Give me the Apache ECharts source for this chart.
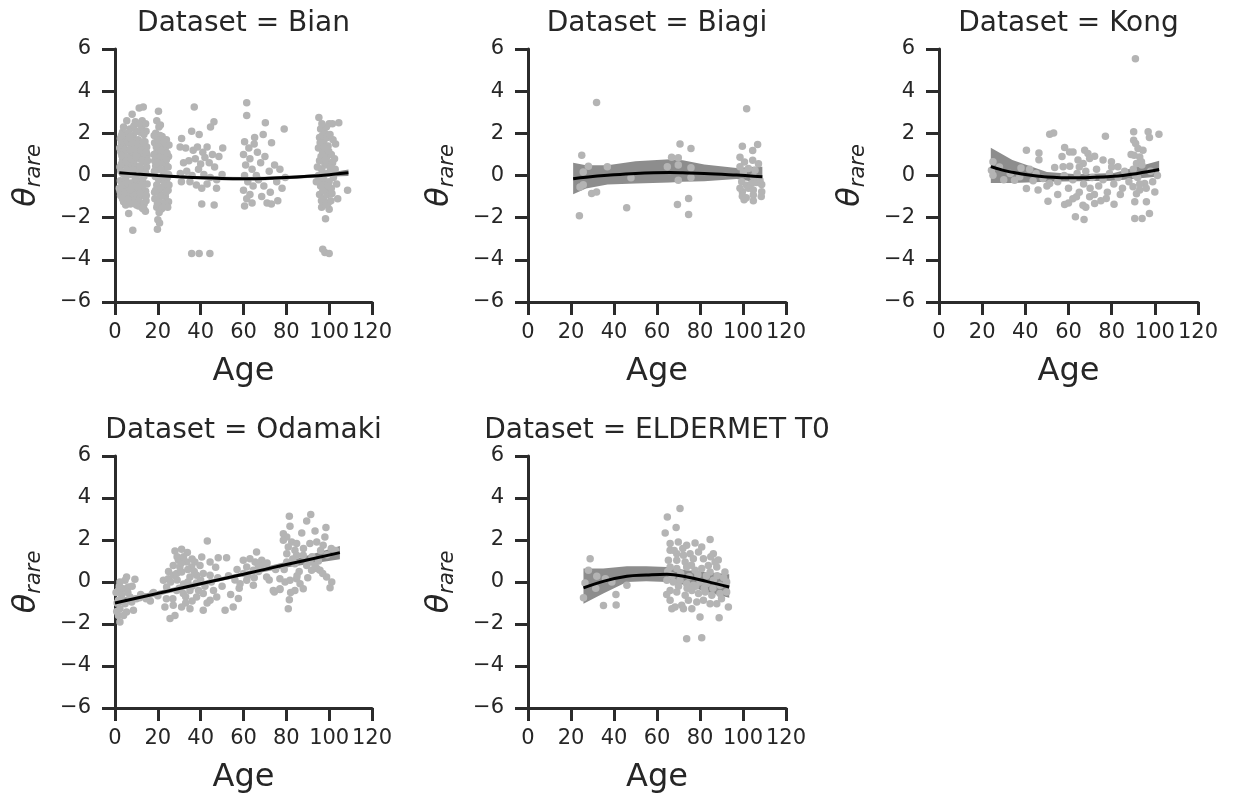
<!DOCTYPE html>
<html>
<head>
<meta charset="utf-8">
<script src="https://cdn.jsdelivr.net/npm/echarts@6/dist/echarts.min.js"></script>
<style>
html,body{margin:0;padding:0;background:#fff;}
#chart{width:1234px;height:795px;}
</style>
</head>
<body>
<div id="chart"></div>
<script>
// ---------------- DATA ----------------
const datasetNames = ['Bian', 'Biagi', 'Kong', 'Odamaki', 'ELDERMET T0'];
const ageTicks = [0, 20, 40, 60, 80, 100, 120];
const thetaTicks = [-6, -4, -2, 0, 2, 4, 6];

// Bian
const bianPoints = [
[13.2,3.25],[11.3,3.2],[8.0,2.9],[5.5,2.6],[9.5,2.55],[12.5,2.3],[3.5,2.05],[7.0,2.2],[14.5,2.1],
[2.5,1.75],[5.0,1.85],[8.5,1.9],[10.8,1.7],[13.5,1.95],[4.0,1.45],[6.5,1.55],[9.2,1.4],[12.0,1.5],[14.8,1.35],
[2.8,1.1],[5.5,1.2],[7.8,1.05],[10.5,1.15],[13.0,1.0],[15.0,0.95],[3.5,0.75],[6.0,0.85],[8.8,0.7],[11.5,0.8],[14.0,0.65],
[2.3,0.4],[4.8,0.5],[7.2,0.35],[9.8,0.45],[12.3,0.3],[14.8,0.4],[3.6,0.1],[6.2,0.15],[8.5,0.05],[11.0,0.12],[13.5,-0.05],
[2.5,-0.25],[5.0,-0.2],[7.5,-0.35],[10.2,-0.3],[12.8,-0.2],[15.0,-0.4],[3.8,-0.6],[6.3,-0.55],[9.0,-0.7],[11.8,-0.6],[14.3,-0.75],
[2.6,-0.95],[5.2,-1.0],[7.7,-0.9],[10.4,-1.05],[13.0,-0.95],[4.0,-1.25],[8.0,-1.2],[12.0,-1.3],[14.5,-1.2],
[6.4,-1.8],[8.3,-2.6],[13.5,-1.6],[14.2,-1.7],[11.0,-1.45],
[4.2,1.0],[9.0,1.65],[11.8,2.05],[6.8,0.6],[10.0,0.0],[13.8,0.95],[5.8,-0.8],[3.0,0.55],[12.5,-0.65],[7.5,1.4],[14.0,1.6],[9.5,-0.15],[2.0,-0.6],[5.5,0.25],[11.5,-0.9],
[3.0,1.55],[5.8,1.6],[8.2,1.55],[10.5,1.45],[13.2,1.6],[2.2,1.3],[4.5,1.25],[7.0,1.2],[9.6,1.25],[12.2,1.2],[14.6,1.1],
[3.2,0.95],[5.3,0.65],[7.6,0.8],[10.0,0.9],[12.6,0.75],[15.2,0.7],[2.7,0.2],[4.9,0.0],[7.0,0.05],[9.3,0.25],[11.6,0.45],[14.2,0.15],
[3.3,-0.45],[5.6,-0.35],[8.0,-0.55],[10.7,-0.55],[13.2,-0.45],[2.4,-0.75],[4.6,-0.8],[7.0,-0.7],[9.7,-0.95],[12.0,-0.85],[14.6,-0.95],
[3.5,-1.1],[6.0,-1.15],[9.3,-1.15],[11.0,-1.2],[13.6,-1.35],[5.0,-1.4],[7.2,-1.35],[10.0,-1.4],[12.8,-1.55],
[4.0,2.3],[6.0,2.0],[10.0,2.1],[12.7,2.6],[8.8,2.35],[14.3,2.45],[3.0,1.9],[11.2,2.45],[6.8,1.8],
[20.3,3.05],[19.5,2.6],[20.5,2.3],[19.0,2.0],[22.0,1.85],[24.0,1.7],[18.5,1.55],[21.0,1.45],[23.5,1.3],[19.5,1.1],[22.5,1.0],[25.0,0.9],[18.5,0.7],[21.0,0.6],[23.8,0.5],[20.0,0.3],[22.5,0.2],[25.0,0.05],[18.8,-0.05],[21.5,-0.15],[24.0,-0.3],[19.5,-0.45],[22.0,-0.55],[24.8,-0.7],[18.5,-0.8],[21.0,-0.9],[23.5,-1.0],[20.0,-1.2],[22.5,-1.3],[25.0,-1.25],[19.5,-1.5],[21.5,-1.6],[20.0,-2.1],[20.8,-2.25],[19.8,-2.55],[23.0,0.8],[20.5,1.2],[24.5,-0.1],[22.0,-0.95],[19.0,0.45],[23.0,-0.5],[21.0,1.9],[24.8,0.4],
[18.3,1.9],[20.2,1.7],[23.0,1.6],[25.2,1.45],[19.3,1.35],[21.8,1.2],[24.3,1.05],[18.2,1.0],[20.6,0.85],[22.0,0.6],[24.0,0.75],[19.6,0.65],[21.2,0.3],[23.6,0.1],[18.4,0.2],[20.4,-0.2],[22.8,-0.25],[25.2,-0.45],[19.0,-0.7],[21.6,-0.6],[23.8,-0.8],[18.6,-1.1],[20.8,-1.25],[23.2,-1.35],[24.6,-1.5],[19.8,-1.35],[22.0,-1.55],[20.6,-1.75],[21.2,2.4],[22.5,-0.05],
[37.0,3.25],[31.1,1.75],[35.8,2.1],[39.3,1.95],[44.6,2.3],[46.2,2.55],[30.4,1.35],[33.0,1.3],[36.5,1.2],[38.5,1.35],[41.0,1.1],[43.0,1.35],[45.5,1.0],[48.5,0.9],[32.0,0.6],[34.5,0.7],[37.5,0.8],[40.0,0.55],[42.0,0.85],[44.0,0.6],[46.5,0.4],[30.5,0.1],[33.5,0.2],[36.0,0.0],[39.0,0.3],[41.5,0.05],[44.5,-0.1],[47.5,-0.2],[50.0,0.05],[31.0,-0.3],[35.0,-0.3],[38.0,-0.45],[40.5,-0.6],[43.0,-0.4],[47.4,-0.6],[40.5,-1.35],[46.3,-1.4],[35.8,-3.7],[39.3,-3.7],[44.3,-3.7],[50.3,1.3],
[61.5,3.45],[61.5,2.85],[70.2,2.5],[65.2,1.8],[69.2,1.95],[73.1,1.55],[79.0,2.2],[60.5,1.6],[62.5,1.3],[60.0,1.0],[63.0,0.8],[61.0,0.5],[64.0,0.3],[60.5,0.0],[62.0,-0.3],[64.5,-0.5],[60.0,-0.7],[63.0,-0.9],[61.5,-1.1],[60.5,-1.45],[64.0,-1.3],[66.5,1.1],[68.0,0.6],[70.0,0.9],[72.0,0.2],[74.5,0.5],[67.0,-0.2],[69.5,-0.5],[72.5,-0.8],[75.5,-0.3],[77.0,0.3],[79.5,-0.1],[71.0,-1.3],[73.0,-1.35],[76.0,-1.2],[66.0,0.0],[68.5,-1.0],[78.0,-0.6],[65.0,1.5],
[95.2,2.75],[100.0,2.45],[101.5,2.45],[104.5,2.5],[96.0,2.2],[98.0,2.0],[95.5,1.8],[97.5,1.6],[99.5,1.4],[95.0,1.3],[97.0,1.1],[99.0,0.9],[101.0,1.0],[95.5,0.7],[98.0,0.5],[100.5,0.6],[96.5,0.3],[99.0,0.1],[101.5,0.2],[95.0,0.0],[97.5,-0.2],[100.0,-0.3],[102.0,-0.1],[96.0,-0.5],[98.5,-0.7],[101.0,-0.6],[95.5,-0.9],[97.5,-1.1],[99.5,-1.3],[96.5,-1.5],[100.0,-1.6],[98.3,-2.05],[97.0,-3.5],[98.0,-3.65],[100.0,-3.7],[104.0,-1.1],[108.6,-0.7],[103.0,1.5],[102.5,0.8],[103.5,-0.4],[94.5,0.4],[94.0,-0.3],[96.8,1.9],[99.2,-0.9],[101.8,1.7],[97.0,0.0],
[95.8,1.55],[97.8,1.35],[99.8,1.15],[101.6,0.6],[96.2,0.9],[98.3,0.75],[100.6,0.35],[95.4,-0.2],[97.3,-0.45],[99.6,-0.5],[101.3,-0.85],[96.4,-1.2],[98.6,-1.4],[100.8,-1.2],[97.0,-0.75],[99.2,1.8],[98.7,2.3],[102.8,0.3],[96.6,2.45],[100.4,1.95]
];
const bianFitAge = [2, 10, 20, 30, 40, 50, 60, 70, 80, 90, 100, 109];
const bianFit =    [0.13, 0.07, 0.0, -0.06, -0.11, -0.14, -0.15, -0.14, -0.10, -0.04, 0.04, 0.13];
const bianLo =     [0.01, -0.02, -0.08, -0.13, -0.18, -0.22, -0.23, -0.22, -0.18, -0.12, -0.05, -0.02];
const bianHi =     [0.25, 0.16, 0.08, 0.01, -0.04, -0.06, -0.07, -0.06, -0.02, 0.04, 0.13, 0.28];

// Biagi
const biagiPoints = [
[31.9,3.46],[101.7,3.17],[25.0,0.96],[28.1,0.44],[36.9,0.41],[25.7,0.17],[24.2,-0.54],[25.7,-0.44],[29.6,-0.85],[31.9,-0.78],[23.9,-1.91],[45.9,-1.53],[47.9,-0.11],
[70.7,1.5],[75.8,1.28],[66.8,0.87],[69.9,0.84],[64.8,0.41],[69.9,0.5],[75.8,0.37],[69.9,-0.22],[75.8,-0.1],[69.5,-1.38],[74.7,-1.09],[74.7,-1.85],
[99.7,1.39],[106.8,1.47],[104.5,1.18],[98.6,0.87],[100.7,0.64],[104.5,0.72],[107.2,0.56],[98.6,0.41],[100.2,0.17],[102.5,0.33],[105.6,0.25],[99.4,-0.3],[101.7,-0.46],[104.0,-0.38],[106.4,-0.33],[108.7,-0.43],[107.9,-0.22],[104.8,-0.06],[99.7,-0.77],[102.5,-0.61],[104.8,-0.69],[108.7,-0.77],[99.7,-0.98],[104.8,-0.93],[98.6,-0.61],[100.5,-1.15],[104.8,-1.2],[108.5,-1.0],[101.5,-1.05]
];
const biagiFitAge = [21, 27, 37, 50, 66, 72, 82, 97, 105, 109];
const biagiFit =    [-0.15, -0.08, 0.01, 0.10, 0.14, 0.13, 0.10, 0.02, -0.03, -0.06];
const biagiLo =     [-0.89, -0.62, -0.43, -0.38, -0.33, -0.30, -0.27, -0.17, -0.30, -0.40];
const biagiHi =     [0.61, 0.49, 0.49, 0.68, 0.77, 0.72, 0.52, 0.36, 0.41, 0.41];

// Kong
const kongPoints = [
[91.0,5.54],[51.3,1.96],[53.1,2.02],[77.1,1.86],[90.2,2.07],[96.9,2.07],[101.9,1.96],[97.5,1.8],[40.5,1.2],[46.3,1.07],[46.3,0.75],[58.2,1.33],[60.5,1.12],
[62.1,1.12],[67.5,1.2],[69.0,1.04],[72.1,0.91],[69.8,0.81],[64.4,0.73],[66.8,0.57],[76.0,0.73],[79.9,0.65],[82.9,0.41],[57.5,0.41],[60.6,0.44],[53.6,0.38],
[90.2,1.67],[91.1,1.52],[92.2,1.28],[94.5,1.2],[93.0,0.88],[90.4,0.96],[91.5,0.57],[93.8,0.65],
[40.5,-0.62],[50.5,-1.22],[58.2,-1.38],[63.7,-1.01],[66.7,-1.41],[69.8,-1.01],[72.1,-1.33],[77.5,-1.09],[81.1,-1.36],[63.2,-1.96],[67.2,-2.09],[90.7,-2.04],[94.1,-2.04],[97.5,-1.8],[100.0,-0.78],
[90.7,-1.25],[91.5,-0.86],[89.9,-0.53],[93.0,-0.69],[95.3,-0.38],[96.1,-1.25],
[25.0,0.65],[25.0,0.01],[24.3,0.25],[35.0,-0.22],[37.4,-0.06],[43.6,-0.25],[48.2,-0.14],[45.9,-0.69],[51.3,-0.38],[101.2,0.0],
[45,0.1],[50,-0.5],[55,-0.3],[58,0.0],[60,-0.6],[62,-0.2],[64,0.1],[65,-0.8],[67,-0.4],[68,0.2],[70,-0.6],[71,-0.1],[73,0.3],[74,-0.5],[76,-0.2],[78,-0.8],[79,0.1],[81,-0.4],[83,-0.1],[84,-0.9],[86,0.2],[88,-0.3],[90,0.3],[92,-0.1],[94,0.5],[96,-0.6],[98,0.2],[99,-0.3],[55,-0.9],[62,-1.1],[75,-1.2],[85,-0.6],[42,0.3],[38,0.35],[30,-0.2],[28,0.4],[33,0.1],[57,0.9],[65,0.4],[80,0.4],[72,-0.9],[89,1.0],[91,0.0],[93,-0.4],[68,-1.5],[60,-1.3]
];
const kongFitAge = [24, 34, 50, 64, 81, 92, 102];
const kongFit =    [0.42, 0.15, -0.07, -0.11, -0.04, 0.10, 0.28];
const kongLo =     [-0.35, -0.35, -0.30, -0.27, -0.25, -0.14, -0.05];
const kongHi =     [1.32, 0.73, 0.17, 0.06, 0.12, 0.41, 0.70];

// Odamaki
const odamakiPoints = [
[5.4,0.24],[9.3,0.13],[2.3,0.0],[4.7,0.08],[1.6,-0.40],[3.9,-0.32],[6.2,-0.24],[3.1,-0.63],[7.0,-0.71],[1.6,-0.87],[4.7,-1.03],[7.8,-0.95],[2.3,-1.27],[5.4,-1.43],[8.6,-1.35],[1.6,-1.59],[2.3,-1.90],
[0.5,-0.5],[1.0,-1.0],[0.8,-1.4],[3.0,-0.9],[6.0,-0.5],[8.0,-0.2],[2.0,-0.2],[4.0,-1.6],[10.0,-0.8],[12.0,-0.6],[14.0,-0.7],[16.5,-0.9],[18.0,-0.5],[11.5,-0.75],[14.5,-0.8],[17.5,-0.55],[20.0,-0.65],
[28.0,1.48],[31.1,1.56],[33.8,1.40],[43.1,1.95],[27.2,0.79],[29.6,1.03],[30.3,0.71],[33.5,0.95],[35.8,0.71],[37.3,0.95],[39.7,0.79],[40.5,1.19],[44.4,0.95],[48.2,1.16],[52.1,1.16],
[22.6,0.08],[24.9,0.16],[27.2,0.32],[28.8,0.40],[31.1,0.48],[35.0,0.24],[38.1,0.32],[41.2,0.40],[44.4,0.32],
[24.1,-0.24],[28.8,-0.40],[31.9,-0.55],[35.0,-0.40],[38.1,-0.71],[41.2,-0.55],[44.4,-0.87],[47.5,-0.71],
[23.3,-1.19],[27.2,-1.11],[31.1,-1.19],[35.0,-1.27],[41.2,-1.35],[51.4,-1.35],[25.7,-1.74],[28.0,-1.59],[55.2,-1.19],[57.6,-0.79],
[26,0.0],[29,0.1],[32,-0.1],[34,0.0],[36,-0.2],[38,-0.05],[30,-0.3],[33,-0.7],[36,-0.9],[39,-0.4],[42,-0.2],[45,0.0],[27,-0.8],[31,0.9],[34,0.6],[37,0.5],[29,1.2],[33,-1.0],[40,0.1],[46,-0.4],[48,0.2],[50,-0.2],[53,0.3],[56,0.1],[58,-0.3],[54,-0.6],[47,0.7],[43,-1.0],[25,0.5],[32,1.2],[24,-0.8],[36,1.1],
[66.1,1.43],[59.9,1.03],[63.0,1.11],[68.5,1.03],[69.2,0.79],[61.5,0.71],[64.6,0.56],[70.8,0.24],[73.9,-0.40],[77.0,-0.32],[58.4,-0.08],[64.6,-0.16],[61.5,0.08],[65.4,0.95],[66.9,0.79],
[60,0.4],[57,0.6],[62,0.3],[67,0.5],[71,0.9],[65,0.2],[72,0.1],[75,0.6],
[81.4,3.13],[91.4,3.21],[89.5,2.90],[81.7,2.65],[78.6,2.30],[80.2,2.14],[82.5,1.90],[84.8,1.83],[78.6,1.99],[80.9,1.67],[84.0,1.51],[87.2,2.33],[93.4,2.43],[98.5,2.59],[98.0,2.14],[94.2,1.90],[91.0,1.83],[97.2,1.75],
[80.2,1.35],[84.8,1.27],[87.9,1.27],[80.2,0.95],[84.0,0.87],[89.5,0.79],[94.2,0.64],[98.8,0.24],[101.2,0.0],[100.4,-0.27],
[77.0,0.16],[79.4,0.0],[81.7,0.08],[84.8,0.16],[86.4,-0.08],[84.0,-0.40],[87.9,-0.32],[74.4,-0.48],[77.0,-0.36],[81.4,-0.84],[80.9,-1.27],
[91.8,0.56],[95.7,0.56],[93.4,0.79],[91.0,0.95],
[83,1.1],[86,0.5],[88,1.6],[92,1.2],[95,1.0],[97,0.4],[99,1.3],[101,1.6],[103,1.5],[82,-0.5],[85,0.3],[79,0.6],[96,1.5],[90,0.2]
];
const odamakiFitAge = [0, 20, 40, 60, 80, 105];
const odamakiFit =    [-1.00, -0.54, -0.08, 0.37, 0.83, 1.40];
const odamakiLo =     [-1.18, -0.65, -0.17, 0.28, 0.69, 1.08];
const odamakiHi =     [-0.82, -0.43, 0.01, 0.46, 0.97, 1.72];

// ELDERMET T0
const eldermetPoints = [
[28.9,1.11],[28.1,0.56],[32,0.27],[36,0.16],[39,0.0],[26.5,-0.05],[31.5,-0.3],[25.8,-0.75],[40.9,-0.59],[35.1,-1.12],[41,-1.1],[46,-0.16],
[70.7,3.5],[64.8,3.1],[68.9,2.59],[63.8,2.33],[84.7,2.02],
[66.1,1.83],[69.9,1.9],[73.8,1.75],[77.7,1.86],[80.8,1.67],[66.1,1.51],[69.2,1.35],[72.3,1.27],[75.4,1.35],[79.3,1.43],[86.2,1.35],[65.3,1.03],[69.2,1.03],[73.1,0.95],[76.9,1.11],[81.6,1.11],[87.0,0.95],[83.9,0.79],
[66.1,0.71],[69.2,0.64],[73.8,0.71],[77.7,0.56],[80.8,0.64],[84.7,0.48],[87.8,0.71],[91.6,0.48],
[64.6,0.08],[67.6,0.0],[70.7,0.08],[73.8,-0.08],[76.9,-0.16],[80.0,0.0],[83.1,-0.08],[86.2,0.08],[89.3,-0.16],[92.4,0.0],
[66.1,-0.40],[69.2,-0.48],[73.1,-0.63],[76.2,-0.40],[79.3,-0.55],[82.4,-0.48],[85.5,-0.63],[89.3,-0.55],[92.4,-0.48],
[66.1,-0.87],[68.4,-1.19],[71.5,-1.11],[74.6,-0.87],[78.5,-0.95],[81.6,-0.87],[84.7,-1.03],[87.8,-1.03],[93.2,-1.19],
[66.9,-1.27],[72.3,-1.27],[76.2,-1.27],[80.0,-1.67],[88.9,-1.7],[73.8,-2.7],[80.8,-2.65],
[67.0,0.3],[71.0,0.4],[75.0,0.25],[79.0,0.35],[83.0,0.3],[88.0,0.3],[91.0,0.2],[65.0,0.5],[70.0,-0.2],[74.0,-0.3],[78.0,-0.2],[82.0,-0.3],[86.0,-0.3],[90.0,-0.8],[64.5,-0.6],[68.0,1.5],[72.0,1.6],[76.0,0.8],[85.0,1.2],[88.5,1.05]
];
const eldermetFitAge = [25.8, 35, 46, 55, 64.6, 74, 83, 93.6];
const eldermetFit =    [-0.28, 0.03, 0.27, 0.33, 0.37, 0.24, 0.03, -0.24];
const eldermetLo =     [-1.03, -0.55, 0.0, 0.03, 0.0, -0.16, -0.48, -0.75];
const eldermetHi =     [0.64, 0.64, 0.75, 0.75, 0.71, 0.56, 0.48, 0.37];

// ---------------- CHART ----------------
const TEXT = '#262626';
const AXIS = '#2b2b2b';
const FONT = 'DejaVu Sans';
const POINT = '#b4b4b4';
const BAND = '#8d8d8d';

const panels = [
  {points: bianPoints, age: bianFitAge, fit: bianFit, lo: bianLo, hi: bianHi},
  {points: biagiPoints, age: biagiFitAge, fit: biagiFit, lo: biagiLo, hi: biagiHi},
  {points: kongPoints, age: kongFitAge, fit: kongFit, lo: kongLo, hi: kongHi},
  {points: odamakiPoints, age: odamakiFitAge, fit: odamakiFit, lo: odamakiLo, hi: odamakiHi},
  {points: eldermetPoints, age: eldermetFitAge, fit: eldermetFit, lo: eldermetLo, hi: eldermetHi}
];
const layout = [
  {left: 115, top: 49, width: 257, height: 253},
  {left: 528, top: 49, width: 258, height: 253},
  {left: 939, top: 49, width: 259, height: 253},
  {left: 115, top: 456, width: 257, height: 252},
  {left: 528, top: 456, width: 258, height: 252}
];

const fmtNum = v => (v < 0 ? '\u2212' + Math.abs(v) : String(v));

const grids = [], xAxes = [], yAxes = [], series = [], graphics = [];
panels.forEach((p, i) => {
  const g = layout[i];
  grids.push({left: g.left, top: g.top, width: g.width, height: g.height, containLabel: false, outerBoundsMode: 'none'});
  xAxes.push({
    type: 'value', gridIndex: i,
    min: ageTicks[0], max: ageTicks[ageTicks.length - 1], interval: ageTicks[1] - ageTicks[0],
    name: 'Age', nameLocation: 'middle', nameGap: 54, nameMoveOverlap: false,
    nameTextStyle: {fontFamily: FONT, fontSize: 32, color: TEXT},
    axisLine: {show: true, onZero: false, lineStyle: {color: AXIS, width: 3}},
    axisTick: {show: true, length: 13, lineStyle: {color: AXIS, width: 3}},
    axisLabel: {fontFamily: FONT, fontSize: 21, color: TEXT, margin: 20, formatter: fmtNum, hideOverlap: false},
    splitLine: {show: false}
  });
  yAxes.push({
    type: 'value', gridIndex: i,
    min: thetaTicks[0], max: thetaTicks[thetaTicks.length - 1], interval: thetaTicks[1] - thetaTicks[0],
    name: '{t|\u03B8}{s|rare}', nameLocation: 'middle', nameGap: 70, nameRotate: 90, nameMoveOverlap: false,
    nameTextStyle: {
      color: TEXT,
      rich: {
        t: {fontFamily: FONT, fontSize: 32, fontStyle: 'italic', color: TEXT, verticalAlign: 'top', lineHeight: 34},
        s: {fontFamily: FONT, fontSize: 21, fontStyle: 'italic', color: TEXT, verticalAlign: 'bottom', padding: [18, 0, 0, 0], lineHeight: 23}
      }
    },
    axisLine: {show: true, onZero: false, lineStyle: {color: AXIS, width: 3}},
    axisTick: {show: true, length: 13, lineStyle: {color: AXIS, width: 3}},
    axisLabel: {fontFamily: FONT, fontSize: 21, color: TEXT, margin: 24, formatter: fmtNum},
    splitLine: {show: false}
  });
  // CI band
  series.push({
    type: 'custom', xAxisIndex: i, yAxisIndex: i, silent: true, z: 1,
    data: p.age.map((a, k) => [a, p.lo[k], p.hi[k]]),
    encode: {x: 0, y: [1, 2]},
    renderItem: function (params, api) {
      if (params.dataIndex !== 0) return null;
      const pts = [];
      for (let k = 0; k < p.age.length; k++) pts.push(api.coord([p.age[k], p.hi[k]]));
      for (let k = p.age.length - 1; k >= 0; k--) pts.push(api.coord([p.age[k], p.lo[k]]));
      return {type: 'polygon', shape: {points: pts}, style: {fill: BAND}};
    }
  });
  // scatter
  series.push({
    type: 'scatter', xAxisIndex: i, yAxisIndex: i, z: 2, silent: true,
    symbol: 'circle', symbolSize: 7.5,
    itemStyle: {color: POINT, opacity: 1},
    data: p.points
  });
  // fit line
  series.push({
    type: 'line', xAxisIndex: i, yAxisIndex: i, z: 3, silent: true,
    smooth: 0.4, symbol: 'none',
    lineStyle: {color: '#000', width: 3},
    data: p.age.map((a, k) => [a, p.fit[k]])
  });
  // panel title
  const cy = (i < 3) ? 24 : 431;
  graphics.push({
    type: 'text', x: g.left + g.width / 2, y: cy,
    style: {text: 'Dataset = ' + datasetNames[i], font: '28px "DejaVu Sans"', fill: TEXT, textAlign: 'center', textVerticalAlign: 'middle'}
  });
});

const chart = echarts.init(document.getElementById('chart'), null, {renderer: 'canvas'});
chart.setOption({
  backgroundColor: '#ffffff',
  animation: false,
  grid: grids,
  xAxis: xAxes,
  yAxis: yAxes,
  series: series,
  graphic: graphics
});
</script>
</body>
</html>
